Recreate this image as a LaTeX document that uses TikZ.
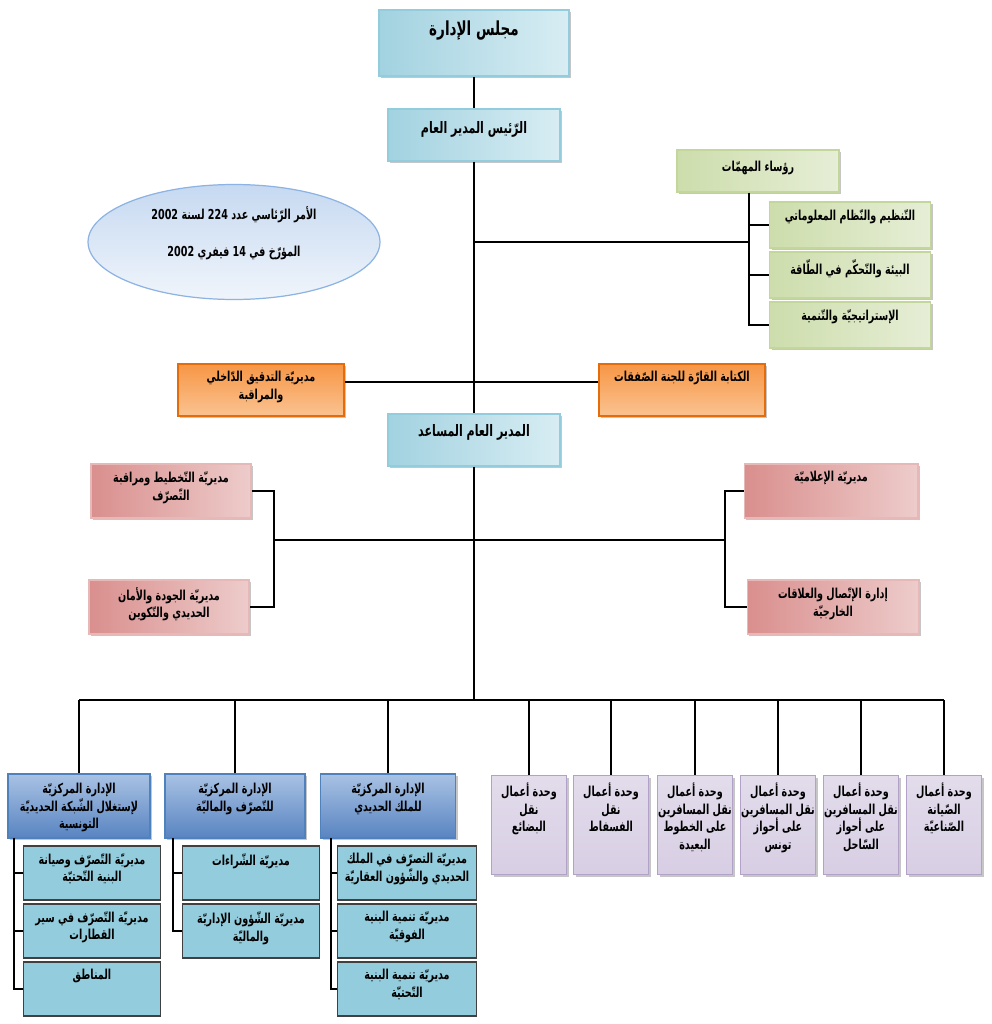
\documentclass[tikz,border=0pt]{standalone}
\usepackage{fontspec}
\newfontfamily\arabicfont[Script=Arabic,FakeStretch=0.7]{DejaVu Sans}
\TeXXeTstate=1
\usetikzlibrary{shapes.geometric,shadows}
\definecolor{cyanA}{HTML}{A2D2E0}
\definecolor{cyanB}{HTML}{D8EDF3}
\definecolor{cyanEdge}{HTML}{93CDDD}
\definecolor{greenA}{HTML}{CDDDAC}
\definecolor{greenB}{HTML}{E6EED6}
\definecolor{greenEdge}{HTML}{C3D69B}
\definecolor{orangeA}{HTML}{F79646}
\definecolor{orangeB}{HTML}{FAC391}
\definecolor{orangeEdge}{HTML}{E46C0A}
\definecolor{pinkA}{HTML}{D98F8D}
\definecolor{pinkB}{HTML}{EDCCCB}
\definecolor{pinkEdge}{HTML}{E6B9B8}
\definecolor{blueA}{HTML}{A9C2E4}
\definecolor{blueB}{HTML}{5884C1}
\definecolor{blueEdge}{HTML}{4F81BD}
\definecolor{subFill}{HTML}{93CDDD}
\definecolor{lilacA}{HTML}{E2DCEB}
\definecolor{lilacB}{HTML}{F7F5FA}
\definecolor{lilacC}{HTML}{D8CEE4}
\definecolor{lilacEdge}{HTML}{B3A2C7}
\definecolor{ovalA}{HTML}{C6D9F1}
\definecolor{ovalB}{HTML}{F0F5FB}
\definecolor{ovalEdge}{HTML}{8DB3E2}
\begin{document}
\begin{tikzpicture}[x=0.02cm,y=-0.02cm,
  box/.style={rectangle,line width=0.6pt,inner sep=0pt},
  shadebox/.style={box,drop shadow={shadow xshift=1.2pt,shadow yshift=-1.2pt,opacity=0.45}},
  headbox/.style={shadebox,draw=cyanEdge,left color=cyanA,right color=cyanB},
  taskbox/.style={shadebox,draw=greenEdge,left color=greenA,right color=greenB},
  auditbox/.style={shadebox,draw=orangeEdge,top color=orangeA,bottom color=orangeB},
  dirbox/.style={shadebox,draw=pinkEdge,left color=pinkA,right color=pinkB},
  centralbox/.style={shadebox,draw=blueEdge,top color=blueA,bottom color=blueB},
  subbox/.style={box,draw=black!75,line width=0.9pt,fill=subFill},
  unitbox/.style={shadebox,draw=lilacEdge,top color=lilacA,middle color=lilacB,bottom color=lilacC,
    minimum width=1.5cm,minimum height=1.98cm},
  lbl/.style={anchor=north,align=center,inner sep=0pt,yshift=-4.3pt,
    font=\arabicfont\bfseries\fontsize{7.8}{10}\selectfont},
  link/.style={line width=0.9pt}]
\useasboundingbox (0,0) rectangle (991,1024);
\node[headbox,minimum width=3.8cm,minimum height=1.32cm,
  label={[lbl,yshift=-2pt,font=\arabicfont\bfseries\fontsize{11}{12}\selectfont]north:{\beginR مجلس الإدارة\endR}}] (board) at (474,43) {};
\node[headbox,minimum width=3.44cm,minimum height=1.04cm,
  label={[lbl,yshift=-3pt,font=\arabicfont\bfseries\fontsize{9}{10}\selectfont]north:{\beginR الرّئيس المدير العام\endR}}] (pdg) at (474,135) {};
\draw[link] (board) -- (pdg);
\node[taskbox,minimum width=3.24cm,minimum height=0.84cm,
  label={[lbl,yshift=-2pt]north:{\beginR رؤساء المهمّات\endR}}] (roles) at (758,171) {};
\node[taskbox,minimum width=3.22cm,minimum height=0.92cm,
  label={[lbl]north:{\beginR التّنظيم والنّظام المعلوماتي\endR}}] (org) at (850,225) {};
\node[taskbox,minimum width=3.22cm,minimum height=0.92cm,
  label={[lbl]north:{\beginR البيئة والتّحكّم في الطّاقة\endR}}] (energy) at (850,275) {};
\node[taskbox,minimum width=3.22cm,minimum height=0.92cm,
  label={[lbl]north:{\beginR الإستراتيجيّة والتّنمية\endR}}] (strat) at (850,325) {};
\coordinate (rolesbus) at (749,242);
\draw[link] (pdg.south |- rolesbus) -- (rolesbus);
\draw[link] (roles.south -| rolesbus) -- (rolesbus |- strat.west) -- (strat.west);
\draw[link] (rolesbus |- org.west) -- (org.west);
\draw[link] (rolesbus |- energy.west) -- (energy.west);
\node[ellipse,draw=ovalEdge,line width=0.7pt,top color=ovalA,bottom color=ovalB,inner sep=0pt,
  minimum width=5.84cm,minimum height=2.3cm,align=center,
  font=\arabicfont\bfseries\fontsize{7.8}{10}\selectfont] (decree) at (234,242)
  {\beginR الأمر الرّئاسي عدد \beginL 224\endL{} لسنة \beginL 2002\endL\endR\\[11pt]
   \beginR المؤرّخ في \beginL 14\endL{} فيفري \beginL 2002\endL\endR\\[2pt]};
\node[auditbox,minimum width=3.32cm,minimum height=1.04cm,
  label={[lbl]north:{\beginR مديريّة التدقيق الدّاخلي\endR\\\beginR والمراقبة\endR}}] (audit) at (261,390) {};
\node[auditbox,minimum width=3.32cm,minimum height=1.04cm,
  label={[lbl]north:{\beginR الكتابة القارّة للجنة الصّفقات\endR}}] (tenders) at (682,390) {};
\coordinate (auditbus) at (474,382);
\draw[link] (audit.east |- auditbus) -- (tenders.west |- auditbus);
\node[headbox,minimum width=3.44cm,minimum height=1.04cm,
  label={[lbl,yshift=-2pt,font=\arabicfont\bfseries\fontsize{9}{10}\selectfont]north:{\beginR المدير العام المساعد\endR}}] (dga) at (474,440) {};
\draw[link] (pdg) -- (dga);
\node[dirbox,minimum width=3.2cm,minimum height=1.08cm,
  label={[lbl]north:{\beginR مديريّة التّخطيط ومراقبة\endR\\\beginR التّصرّف\endR}}] (plan) at (171,491) {};
\node[dirbox,minimum width=3.2cm,minimum height=1.08cm,
  label={[lbl]north:{\beginR مديريّة الجودة والأمان\endR\\\beginR الحديدي والتّكوين\endR}}] (quality) at (169,607) {};
\node[dirbox,minimum width=3.48cm,minimum height=1.08cm,
  label={[lbl]north:{\beginR مديريّة الإعلاميّة\endR}}] (info) at (831,491) {};
\node[dirbox,minimum width=3.44cm,minimum height=1.08cm,
  label={[lbl]north:{\beginR إدارة الإتّصال والعلاقات\endR\\\beginR الخارجيّة\endR}}] (relations) at (833,607) {};
\coordinate (planbus) at (274,540);
\coordinate (infobus) at (725,540);
\draw[link] (plan.east) -| (planbus) |- (quality.east);
\draw[link] (info.west) -| (infobus) |- (relations.west);
\draw[link] (planbus) -- (infobus);
\coordinate (bus) at (474,700);
\draw[link] (dga) -- (bus);
\node[centralbox,minimum width=2.84cm,minimum height=1.28cm,
  label={[lbl,yshift=-1pt]north:{\beginR الإدارة المركزيّة\endR\\\beginR لإستغلال الشّبكة الحديديّة\endR\\\beginR التونسية\endR}}] (net) at (79,806) {};
\node[centralbox,minimum width=2.8cm,minimum height=1.28cm,
  label={[lbl,yshift=-1pt]north:{\beginR الإدارة المركزيّة\endR\\\beginR للتّصرّف والماليّة\endR}}] (fin) at (235,806) {};
\node[centralbox,minimum width=2.7cm,minimum height=1.28cm,
  label={[lbl,yshift=-1pt]north:{\beginR الإدارة المركزيّة\endR\\\beginR للملك الحديدي\endR}}] (rail) at (388,806) {};
\node[unitbox,label={[lbl]north:{\beginR وحدة أعمال\endR\\\beginR نقل\endR\\\beginR البضائع\endR}}] (freight) at (529,825) {};
\node[unitbox,label={[lbl]north:{\beginR وحدة أعمال\endR\\\beginR نقل\endR\\\beginR الفسفاط\endR}}] (phosphate) at (611,825) {};
\node[unitbox,label={[lbl]north:{\beginR وحدة أعمال\endR\\\beginR نقل المسافرين\endR\\\beginR على الخطوط\endR\\\beginR البعيدة\endR}}] (mainline) at (695,825) {};
\node[unitbox,label={[lbl]north:{\beginR وحدة أعمال\endR\\\beginR نقل المسافرين\endR\\\beginR على أحواز\endR\\\beginR تونس\endR}}] (tunis) at (778,825) {};
\node[unitbox,label={[lbl]north:{\beginR وحدة أعمال\endR\\\beginR نقل المسافرين\endR\\\beginR على أحواز\endR\\\beginR السّاحل\endR}}] (sahel) at (861,825) {};
\node[unitbox,label={[lbl]north:{\beginR وحدة أعمال\endR\\\beginR الصّيانة\endR\\\beginR الصّناعيّة\endR}}] (maint) at (944,825) {};
\draw[link] (net.north |- bus) -- (maint.north |- bus);
\draw[link] (net.north) -- (net.north |- bus);
\draw[link] (fin.north) -- (fin.north |- bus);
\draw[link] (rail.north) -- (rail.north |- bus);
\draw[link] (freight.north) -- (freight.north |- bus);
\draw[link] (phosphate.north) -- (phosphate.north |- bus);
\draw[link] (mainline.north) -- (mainline.north |- bus);
\draw[link] (tunis.north) -- (tunis.north |- bus);
\draw[link] (sahel.north) -- (sahel.north |- bus);
\draw[link] (maint.north) -- (maint.north |- bus);
\node[subbox,minimum width=2.74cm,minimum height=1.08cm,
  label={[lbl]north:{\beginR مديريّة التّصرّف وصيانة\endR\\\beginR البنية التّحتيّة\endR}}] (netmgmt) at (92,873) {};
\node[subbox,minimum width=2.74cm,minimum height=1.08cm,
  label={[lbl]north:{\beginR مديريّة التّصرّف في سير\endR\\\beginR القطارات\endR}}] (traffic) at (92,931) {};
\node[subbox,minimum width=2.74cm,minimum height=1.08cm,
  label={[lbl]north:{\beginR المناطق\endR}}] (zones) at (92,989) {};
\node[subbox,minimum width=2.74cm,minimum height=1.08cm,
  label={[lbl]north:{\beginR مديريّة الشّراءات\endR}}] (purchase) at (251,873) {};
\node[subbox,minimum width=2.74cm,minimum height=1.08cm,
  label={[lbl]north:{\beginR مديريّة الشّؤون الإداريّة\endR\\\beginR والماليّة\endR}}] (admin) at (251,931) {};
\node[subbox,minimum width=2.78cm,minimum height=1.08cm,
  label={[lbl]north:{\beginR مديريّة التصرّف في الملك\endR\\\beginR الحديدي والشّؤون العقاريّة\endR}}] (estate) at (407,873) {};
\node[subbox,minimum width=2.78cm,minimum height=1.08cm,
  label={[lbl]north:{\beginR مديريّة تنمية البنية\endR\\\beginR الفوقيّة\endR}}] (superstr) at (407,931) {};
\node[subbox,minimum width=2.78cm,minimum height=1.08cm,
  label={[lbl]north:{\beginR مديريّة تنمية البنية\endR\\\beginR التّحتيّة\endR}}] (infra) at (407,989) {};
\coordinate (netbr) at (14,838);
\coordinate (finbr) at (173,838);
\coordinate (railbr) at (331,838);
\draw[link] (netbr) |- (zones.west);
\draw[link] (netbr |- netmgmt.west) -- (netmgmt.west);
\draw[link] (netbr |- traffic.west) -- (traffic.west);
\draw[link] (finbr) |- (admin.west);
\draw[link] (finbr |- purchase.west) -- (purchase.west);
\draw[link] (railbr) |- (infra.west);
\draw[link] (railbr |- estate.west) -- (estate.west);
\draw[link] (railbr |- superstr.west) -- (superstr.west);
\end{tikzpicture}
\end{document}
